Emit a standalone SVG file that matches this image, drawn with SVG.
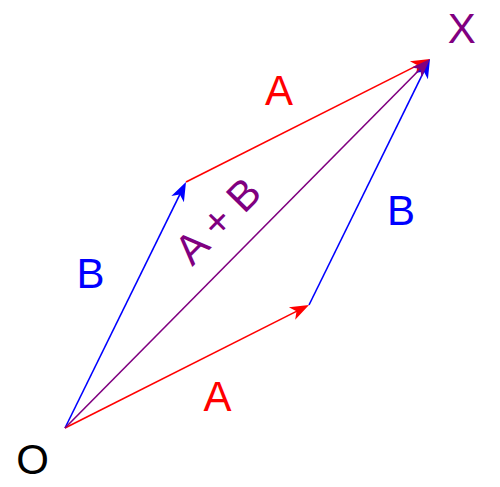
<svg xmlns="http://www.w3.org/2000/svg" width="500" height="487" viewBox="0 0 500 487">
<defs>
<style>
.lbl{font-family:"Liberation Sans",Arial,sans-serif;font-size:42px;text-anchor:middle}
.v{fill:none;stroke-width:1.6}
</style>
<marker id="hr" markerUnits="userSpaceOnUse" markerWidth="22" markerHeight="18" viewBox="0 -9 22 18" refX="11" refY="0" orient="auto"><path d="M0,-7 L19,0 L0,7 L5,0 Z" fill="#ff0000"/></marker>
<marker id="hb" markerUnits="userSpaceOnUse" markerWidth="22" markerHeight="18" viewBox="0 -9 22 18" refX="11" refY="0" orient="auto"><path d="M0,-7 L19,0 L0,7 L5,0 Z" fill="#0000ff"/></marker>
<marker id="hp" markerUnits="userSpaceOnUse" markerWidth="22" markerHeight="18" viewBox="0 -9 22 18" refX="11" refY="0" orient="auto"><path d="M0,-7 L19,0 L0,7 L5,0 Z" fill="#800080"/></marker>
</defs>
<rect width="500" height="487" fill="#ffffff"/>
<g id="connectors">
<path class="v" stroke="#0000ff" d="M65,428 L182.47,189.18" marker-end="url(#hb)"/>
<path class="v" stroke="#ff0000" d="M65,428 L301.86,308.6" marker-end="url(#hr)"/>
<path class="v" stroke="#ff0000" d="M186,182 L422.86,62.6" marker-end="url(#hr)"/>
<path class="v" stroke="#0000ff" d="M309,305 L426.47,66.18" marker-end="url(#hb)"/>
<path class="v" stroke="#800080" d="M65,428 L424.37,64.69" marker-end="url(#hp)"/>
</g>
<g id="labels">
<text class="lbl" x="279" y="105" fill="#ff0000">A</text>
<text class="lbl" x="217.5" y="411" fill="#ff0000">A</text>
<text class="lbl" x="90.5" y="288" fill="#0000ff">B</text>
<text class="lbl" x="401" y="225" fill="#0000ff">B</text>
<text class="lbl" x="0" y="0" fill="#800080" transform="translate(228,231) rotate(-45.3)">A + B</text>
</g>
<g id="node-O"><text class="lbl" x="32.5" y="474" fill="#000000">O</text></g>
<g id="node-X"><text class="lbl" x="461.7" y="43" fill="#800080">X</text></g>
</svg>
